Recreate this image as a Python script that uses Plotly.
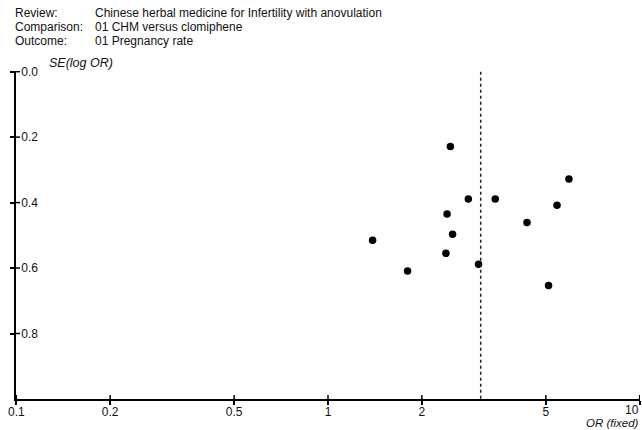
import plotly.graph_objects as go

# ---- data ----
odds_ratio = [2.47, 2.82, 3.44, 2.41, 2.51, 2.39, 3.04, 5.93, 5.43, 4.35, 5.10, 1.80, 1.39]
se_log_or = [0.229, 0.389, 0.389, 0.435, 0.497, 0.555, 0.588, 0.328, 0.408, 0.461, 0.653, 0.609, 0.515]
pooled_or = 3.09

x_ticks = [0.1, 0.2, 0.5, 1, 2, 5, 10]
x_tick_labels = ["0.1", "0.2", "0.5", "1", "2", "5", "10"]
y_ticks = [0.0, 0.2, 0.4, 0.6, 0.8]
y_tick_labels = ["0.0", "0.2", "0.4", "0.6", "0.8"]

header_keys = ["Review:", "Comparison:", "Outcome:"]
header_values = ["Chinese herbal medicine for Infertility with anovulation",
                 "01 CHM versus clomiphene",
                 "01 Pregnancy rate"]

# ---- layout geometry ----
W, H = 642, 430
ML, MR, MT, MB = 16, 2, 71, 31
PW, PH = W - ML - MR, H - MT - MB

def px_x(px):
    return (px - ML) / PW

def px_y(py):
    return 1 - (py - MT) / PH

FONT = "Liberation Sans, Arial, sans-serif"
TXT = "#111111"
TICK_IN = 4  # px length of the inner half of each crossing tick

fig = go.Figure()
fig.add_trace(go.Scatter(
    x=odds_ratio, y=se_log_or, mode="markers",
    marker=dict(color="black", size=7.5, line=dict(width=0)),
    showlegend=False, hoverinfo="skip"))

# pooled estimate (dotted vertical line)
fig.add_shape(type="line", xref="x", yref="y", x0=pooled_or, x1=pooled_or, y0=0, y1=1,
              line=dict(color="#222", width=1.5, dash="dot"))

# inner halves of the crossing ticks
for t in x_ticks:
    fig.add_shape(type="line", xref="x", yref="paper", x0=t, x1=t,
                  y0=0, y1=TICK_IN / PH, line=dict(color="black", width=1.5))
for t in y_ticks:
    fig.add_shape(type="line", xref="paper", yref="y", x0=0, x1=TICK_IN / PW,
                  y0=t, y1=t, line=dict(color="black", width=1.5))

axis_common = dict(showgrid=False, zeroline=False, linecolor="black", linewidth=1.5,
                   tickcolor="black", tickwidth=1.5, ticklen=4, showline=True,
                   ticks="outside", ticklabeloverflow="allow", automargin=False)

# last x label sits at the page edge: draw it right-aligned so it stays readable
x_ticktext = x_tick_labels[:-1] + [""]

fig.update_layout(
    width=W, height=H,
    margin=dict(l=ML, r=MR, t=MT, b=MB, autoexpand=False),
    paper_bgcolor="white", plot_bgcolor="white",
    font=dict(family=FONT, size=12, color=TXT),
    xaxis=dict(type="log", range=[-1.001, 1.001], tickvals=x_ticks, ticktext=x_ticktext,
               tickfont=dict(size=12, color=TXT), ticklabelstandoff=-3, **axis_common),
    yaxis=dict(range=[1.0, -0.002], tickvals=y_ticks, ticktext=y_tick_labels,
               ticklabelposition="inside", ticklabelstandoff=5,
               tickfont=dict(size=12, color=TXT), **axis_common),
)

annotations = []
for i, (k, v) in enumerate(zip(header_keys, header_values)):
    py = 13 + i * 14
    annotations.append(dict(xref="paper", yref="paper", x=px_x(13), y=px_y(py),
                            xanchor="left", yanchor="middle", text=k, showarrow=False,
                            font=dict(size=12, color=TXT, family=FONT)))
    annotations.append(dict(xref="paper", yref="paper", x=px_x(93), y=px_y(py),
                            xanchor="left", yanchor="middle", text=v, showarrow=False,
                            font=dict(size=12, color=TXT, family=FONT)))
annotations.append(dict(xref="x", yref="paper", x=0, y=px_y(410),
                        xanchor="right", yanchor="middle", text=x_tick_labels[-1],
                        xshift=1, showarrow=False,
                        font=dict(size=12, color=TXT, family=FONT)))
annotations[-1]["x"] = 1.0  # log10 of the last tick value (10)
annotations.append(dict(xref="paper", yref="paper", x=px_x(47), y=px_y(63),
                        xanchor="left", yanchor="middle", text="<i>SE(log OR)</i>",
                        showarrow=False, font=dict(size=12.5, color=TXT, family=FONT)))
annotations.append(dict(xref="paper", yref="paper", x=px_x(641), y=px_y(423),
                        xanchor="right", yanchor="middle", text="<i>OR (fixed)</i>",
                        showarrow=False, font=dict(size=11.5, color=TXT, family=FONT)))
fig.update_layout(annotations=annotations)

fig.write_html("out.html")
